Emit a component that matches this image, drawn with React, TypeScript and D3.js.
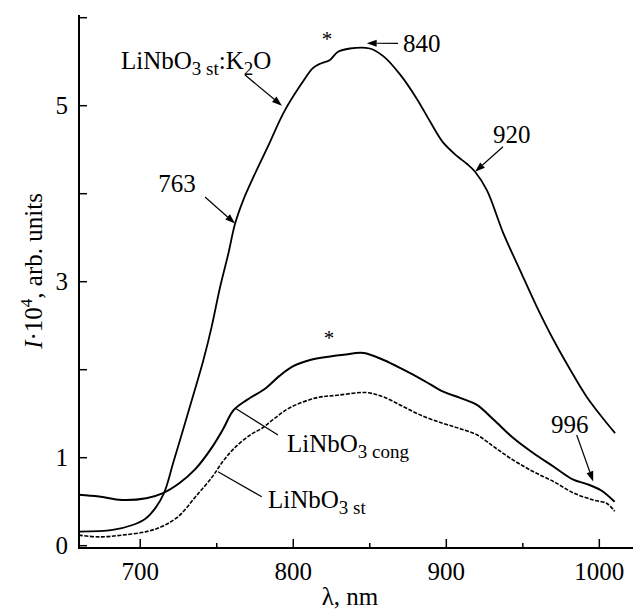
import React from "react";
import * as d3 from "d3";

const lambdaK2O = [660, 682, 695, 703.6, 710, 715.6, 721.7, 728.2, 734.5, 741.3, 746.7, 752.2, 757.6, 762, 767.4, 774, 783, 794, 805, 813, 818, 824, 829, 837, 850, 859, 870, 880.7, 889.4, 898, 906.9, 913.4, 918.8, 926.5, 937.3, 948.2, 959, 970, 981, 991.8, 1002.7, 1010.3];
const valK2O = [0.16, 0.18, 0.235, 0.31, 0.43, 0.6, 0.95, 1.33, 1.7, 2.11, 2.49, 2.94, 3.32, 3.66, 3.93, 4.19, 4.52, 4.93, 5.24, 5.43, 5.48, 5.52, 5.61, 5.65, 5.65, 5.56, 5.35, 5.08, 4.82, 4.58, 4.43, 4.34, 4.25, 4.04, 3.55, 3.13, 2.72, 2.34, 2.0, 1.69, 1.44, 1.28];

const lambdaCong = [660, 673, 688, 704, 714.5, 725.5, 736, 747, 754, 761, 770, 782, 791, 800, 811, 824, 833, 846, 859, 872, 885, 898, 909, 920, 931, 944, 957, 970, 983, 992, 1001, 1010];
const valCong = [0.58, 0.56, 0.52, 0.54, 0.595, 0.71, 0.87, 1.12, 1.32, 1.54, 1.66, 1.79, 1.93, 2.04, 2.11, 2.15, 2.17, 2.19, 2.11, 2.0, 1.88, 1.75, 1.68, 1.6, 1.43, 1.22, 1.05, 0.9, 0.75, 0.7, 0.63, 0.5];

const lambdaSt = [660, 673, 688, 704, 714.5, 725.4, 736.3, 747, 753.7, 761, 772, 780, 788, 798, 815, 829, 848, 859, 872, 885, 898, 909, 920, 931, 944, 957, 970, 983, 996, 1005, 1010];
const valSt = [0.12, 0.1, 0.12, 0.16, 0.22, 0.34, 0.56, 0.78, 0.95, 1.1, 1.26, 1.34, 1.45, 1.57, 1.68, 1.71, 1.74, 1.69, 1.58, 1.47, 1.39, 1.33, 1.26, 1.125, 0.97, 0.84, 0.73, 0.6, 0.52, 0.48, 0.39];

const xTicksMajor = [700, 800, 900, 1000];
const xTicksMinor = [750, 850, 950];
const yTicks = [0, 1, 2, 3, 4, 5, 6];
const yTickLabels = ["0", "1", "", "3", "", "5", ""];

const FONT = "'Liberation Serif', 'Times New Roman', serif";

export default function App() {
  const W = 637, H = 616;
  const x = d3.scaleLinear().domain([660, 1022]).range([79, 633]);
  const y = d3.scaleLinear().domain([0, 6]).range([545.7, 17.7]);
  const axisY = 548;
  const axisTop = 15;

  const line = d3
    .line<[number, number]>()
    .x((d) => x(d[0]))
    .y((d) => y(d[1]))
    .curve(d3.curveCatmullRom.alpha(0.5));

  const k2o = lambdaK2O.map((l, i) => [l, valK2O[i]] as [number, number]);
  const cong = lambdaCong.map((l, i) => [l, valCong[i]] as [number, number]);
  const st = lambdaSt.map((l, i) => [l, valSt[i]] as [number, number]);

  const fs = 25;
  const sub = 19;

  const arrow = (x1: number, y1: number, x2: number, y2: number, key: string) => {
    const ang = Math.atan2(y2 - y1, x2 - x1);
    const L = 10, Wd = 3.5;
    const bx = x2 - L * Math.cos(ang), by = y2 - L * Math.sin(ang);
    const p1 = [bx + Wd * Math.sin(ang), by - Wd * Math.cos(ang)];
    const p2 = [bx - Wd * Math.sin(ang), by + Wd * Math.cos(ang)];
    return (
      <g key={key}>
        <line x1={x1} y1={y1} x2={bx} y2={by} stroke="#000" strokeWidth={1.2} />
        <polygon points={`${x2},${y2} ${p1[0]},${p1[1]} ${p2[0]},${p2[1]}`} fill="#000" />
      </g>
    );
  };

  return (
    <svg width={W} height={H} style={{ position: "absolute", left: 0, top: 0, background: "#fff" }} fontFamily={FONT}>
      <rect x={0} y={0} width={W} height={H} fill="#fff" />
      {/* curves */}
      <path d={line(k2o) || ""} fill="none" stroke="#000" strokeWidth={1.8} />
      <path d={line(cong) || ""} fill="none" stroke="#000" strokeWidth={2} />
      <path d={line(st) || ""} fill="none" stroke="#000" strokeWidth={1.6} strokeDasharray="4 1.5" />

      {/* axes */}
      <line x1={79} y1={axisTop} x2={79} y2={axisY + 1} stroke="#000" strokeWidth={2} />
      <line x1={78} y1={axisY} x2={633} y2={axisY} stroke="#000" strokeWidth={2} />
      {yTicks.map((t, i) => (
        <g key={"yt" + t}>
          <line x1={79} x2={87} y1={y(t)} y2={y(t)} stroke="#000" strokeWidth={1.5} />
          {yTickLabels[i] && (
            <text x={68} y={y(t)} dy="0.34em" textAnchor="end" fontSize={fs}>
              {yTickLabels[i]}
            </text>
          )}
        </g>
      ))}
      {xTicksMajor.map((t) => (
        <g key={"xt" + t}>
          <line x1={x(t)} x2={x(t)} y1={axisY} y2={axisY - 9} stroke="#000" strokeWidth={1.5} />
          <text x={x(t)} y={580} textAnchor="middle" fontSize={fs}>
            {t}
          </text>
        </g>
      ))}
      {xTicksMinor.map((t) => (
        <line key={"xm" + t} x1={x(t)} x2={x(t)} y1={axisY} y2={axisY - 5} stroke="#000" strokeWidth={1.5} />
      ))}

      {/* axis titles */}
      <text x={350} y={605} textAnchor="middle" fontSize={fs}>
        λ, nm
      </text>
      <text transform="translate(42,271) rotate(-90)" textAnchor="middle" fontSize={fs}>
        <tspan fontStyle="italic">I</tspan>
        <tspan>·10</tspan>
        <tspan dy={-10} fontSize={17}>4</tspan>
        <tspan dy={10}>, arb. units</tspan>
      </text>

      {/* curve labels */}
      <text x={121} y={69} fontSize={fs}>
        <tspan>LiNbO</tspan>
        <tspan dy={6} fontSize={sub}>3 st</tspan>
        <tspan dy={-6}>:K</tspan>
        <tspan dy={6} fontSize={sub}>2</tspan>
        <tspan dy={-6}>O</tspan>
      </text>
      {arrow(245, 75, x(792.6), y(5.0), "a1")}

      <text x={177} y={192} textAnchor="middle" fontSize={fs}>763</text>
      {arrow(205, 197, x(762), y(3.66), "a2")}

      <text x={403} y={52} fontSize={fs}>840</text>
      {arrow(398, 43.3, x(848), y(5.71), "a3")}

      <text x={493} y={143} fontSize={fs}>920</text>
      {arrow(503, 146.7, x(918.8), y(4.25), "a4")}

      <text x={551} y={433} fontSize={fs}>996</text>
      {arrow(576.7, 435, x(996), y(0.73), "a5")}

      <text x={327} y={46} textAnchor="middle" fontSize={21}>*</text>
      <text x={329} y={345} textAnchor="middle" fontSize={21}>*</text>

      <text x={287} y={452} fontSize={fs}>
        <tspan>LiNbO</tspan>
        <tspan dy={6} fontSize={sub}>3 cong</tspan>
      </text>
      <line x1={235} y1={408} x2={278} y2={435} stroke="#000" strokeWidth={1.2} />

      <text x={268} y={508} fontSize={fs}>
        <tspan>LiNbO</tspan>
        <tspan dy={6} fontSize={sub}>3 st</tspan>
      </text>
      <line x1={218} y1={471.7} x2={261.7} y2={496.7} stroke="#000" strokeWidth={1.2} />
    </svg>
  );
}
